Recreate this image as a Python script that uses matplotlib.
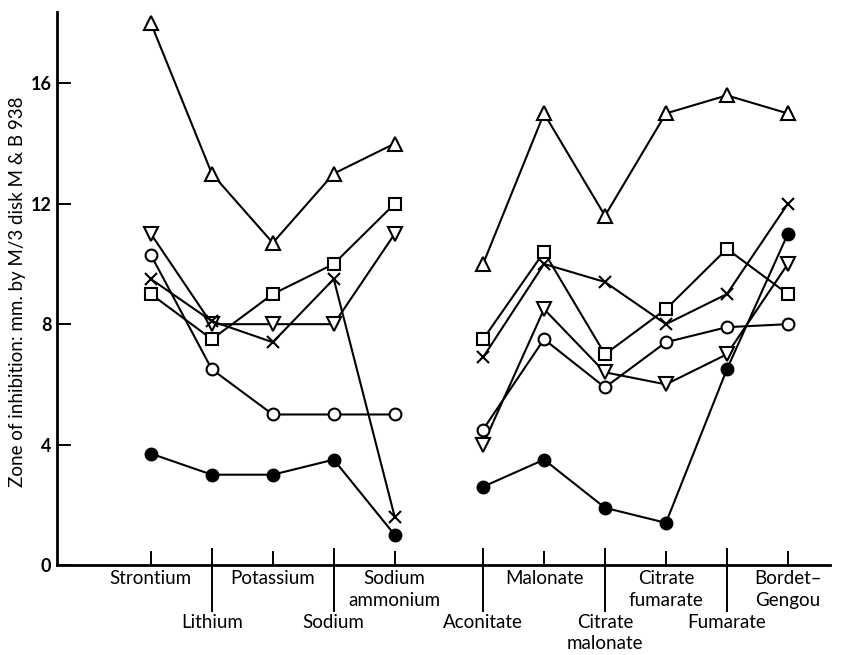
import numpy as np
import matplotlib
matplotlib.use("Agg")
import matplotlib.pyplot as plt

# ─────────────────────────────────────────────
# DATA (zone of inhibition, mm)
# ─────────────────────────────────────────────
salts = ['Strontium', 'Lithium', 'Potassium', 'Sodium',
         'Sodium\nammonium']
media = ['Aconitate', 'Malonate', 'Citrate\nmalonate',
         'Citrate\nfumarate', 'Fumarate', 'Bordet–\nGengou']

tri_up_salts = [18.0, 13.0, 10.7, 13.0, 14.0]
tri_up_media = [10.0, 15.0, 11.6, 15.0, 15.6, 15.0]

square_salts = [9.0, 7.5, 9.0, 10.0, 12.0]
square_media = [7.5, 10.4, 7.0, 8.5, 10.5, 9.0]

tri_down_salts = [11.0, 8.0, 8.0, 8.0, 11.0]
tri_down_media = [4.0, 8.5, 6.4, 6.0, 7.0, 10.0]

cross_salts = [9.5, 8.1, 7.4, 9.5, 1.6]
cross_media = [6.9, 10.0, 9.4, 8.0, 9.0, 12.0]

open_salts = [10.3, 6.5, 5.0, 5.0, 5.0]
open_media = [4.5, 7.5, 5.9, 7.4, 7.9, 8.0]

filled_salts = [3.7, 3.0, 3.0, 3.5, 1.0]
filled_media = [2.6, 3.5, 1.9, 1.4, 6.5, 11.0]

y_ticks = [0, 4, 8, 12, 16]
y_label = 'Zone of inhibition: mm. by M/3 disk M & B 938'

# ─────────────────────────────────────────────
# LAYOUT
# ─────────────────────────────────────────────
plt.rcParams['font.family'] = ['Lato', 'DejaVu Sans']
FS = 13.5

x_salts = np.arange(len(salts))
x_media = np.arange(len(media)) + 5.45
x_all = np.concatenate([x_salts, x_media])
labels_all = salts + media

fig = plt.figure(figsize=(8.41, 6.55), dpi=100)
ax = fig.add_axes([0.0678, 0.1374, 0.919, 0.8443])

series = [
    (tri_up_salts, tri_up_media, dict(marker='^', ms=10, mfc='white')),
    (square_salts, square_media, dict(marker='s', ms=8, mfc='white')),
    (tri_down_salts, tri_down_media, dict(marker='v', ms=10, mfc='white')),
    (open_salts, open_media, dict(marker='o', ms=8.5, mfc='white')),
    (cross_salts, cross_media, dict(marker='x', ms=9)),
    (filled_salts, filled_media, dict(marker='o', ms=8.5, mfc='black')),
]

for s_vals, m_vals, style in series:
    for xs, ys in [(x_salts, s_vals), (x_media, m_vals)]:
        ax.plot(xs, ys, color='black', lw=1.5, mec='black',
                mew=1.5, **style)

ax.set_xlim(-1.54, 11.14)
ax.set_ylim(0, 18.37)

for side in ['top', 'right']:
    ax.spines[side].set_visible(False)
ax.spines['left'].set_linewidth(2)
ax.spines['bottom'].set_linewidth(2)

ax.set_yticks(y_ticks)
ax.set_yticklabels([str(t) for t in y_ticks],
                   fontsize=13, fontweight='bold')
ax.tick_params(axis='y', direction='in', length=10, width=1.4, pad=4)

# short ticks under the first-row labels only
ax.set_xticks(x_all[::2])
ax.set_xticklabels([])
ax.tick_params(axis='x', direction='in', length=10, width=1.4)

# long dividers at the second-row labels
trans = ax.get_xaxis_transform()
for x in x_all[1::2]:
    ax.plot([x, x], [0.029, -0.083], color='black', lw=1.4,
            transform=trans, clip_on=False)

# category labels, two staggered rows
row_offsets = {0: [-13.9, -29.7], 1: [-45.6, -60.8]}
for i, (x, lab) in enumerate(zip(x_all, labels_all)):
    offs = row_offsets[i % 2]
    for line, off in zip(lab.split('\n'), offs):
        ax.annotate(line, xy=(x, 0), xycoords=trans,
                    xytext=(0, off), textcoords='offset points',
                    ha='center', va='baseline', fontsize=FS,
                    annotation_clip=False)

fig.text(18 / 841, 1 - 292 / 655, y_label, rotation=90,
         ha='center', va='center', fontsize=FS)

plt.savefig('out.png', dpi=100)
plt.close()
